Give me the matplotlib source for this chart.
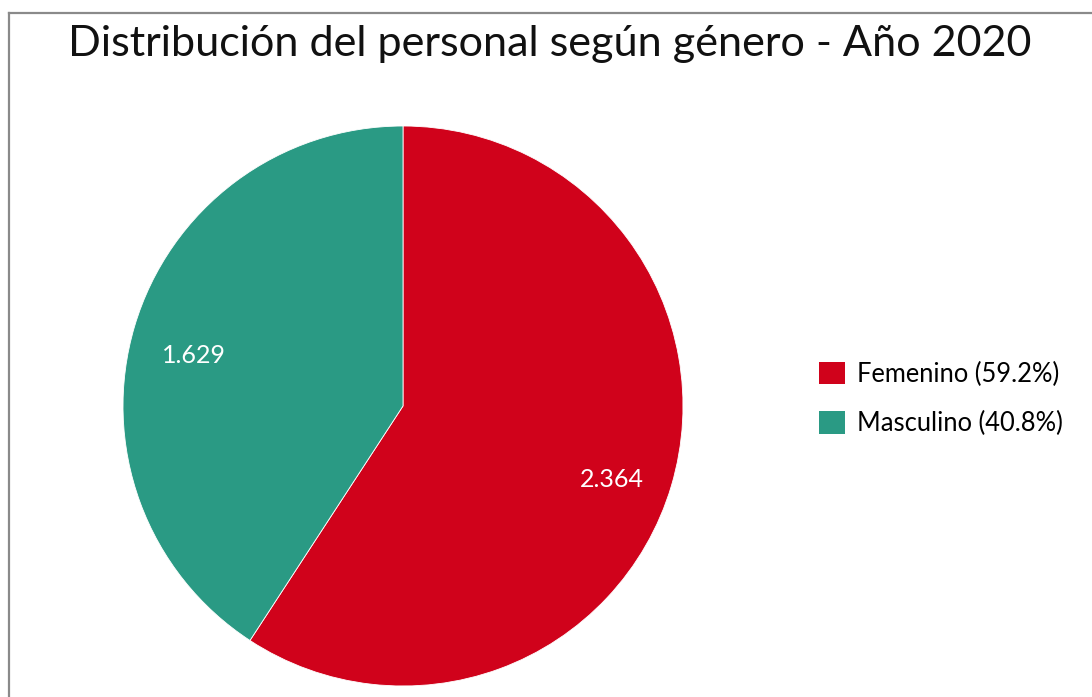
import matplotlib
matplotlib.use("Agg")
import matplotlib.pyplot as plt
from matplotlib.lines import Line2D

plt.rcParams['font.family'] = ['Lato', 'DejaVu Sans']

labels = ['Femenino', 'Masculino']
values = [2364, 1629]
value_labels = ['2.364', '1.629']
colors = ['#D0021B', '#2A9A84']

total = sum(values)
legend_labels = [f"{l} ({v / total * 100:.1f}%)" for l, v in zip(labels, values)]

fig = plt.figure(figsize=(10.92, 6.97), dpi=100)

# gray frame on left and top
fig.add_artist(Line2D([9 / 1092, 9 / 1092], [0, 1 - 13 / 697], transform=fig.transFigure,
                      color='#8a8a8a', linewidth=1.6))
fig.add_artist(Line2D([9 / 1092, 1], [1 - 13 / 697, 1 - 13 / 697], transform=fig.transFigure,
                      color='#8a8a8a', linewidth=1.6))

ax = fig.add_axes([123 / 1092, 11 / 697, 560 / 1092, 560 / 697])
wedges, texts = ax.pie(values, colors=colors, startangle=90, counterclock=False,
                       labels=value_labels, labeldistance=0.78,
                       wedgeprops=dict(edgecolor='white', linewidth=0.6),
                       textprops=dict(color='white', fontsize=18))
for t in texts:
    t.set_ha('center')
    t.set_va('top')
ax.set_xlim(-1, 1)
ax.set_ylim(-1, 1)
ax.set_aspect('equal')

fig.text(550 / 1092, 1 - 44 / 697, 'Distribución del personal según género - Año 2020',
         ha='center', va='center', fontsize=31.1, color='#111111')

leg = fig.legend(wedges, legend_labels, loc='center left',
                 bbox_to_anchor=(819 / 1092, 1 - 399 / 697), frameon=False,
                 fontsize=18.4, handlelength=1.0, handleheight=1.0,
                 labelspacing=0.96, handletextpad=0.47,
                 borderpad=0, borderaxespad=0)
for h in leg.get_patches():
    h.set_edgecolor('none')

fig.savefig('out.png', dpi=100)
